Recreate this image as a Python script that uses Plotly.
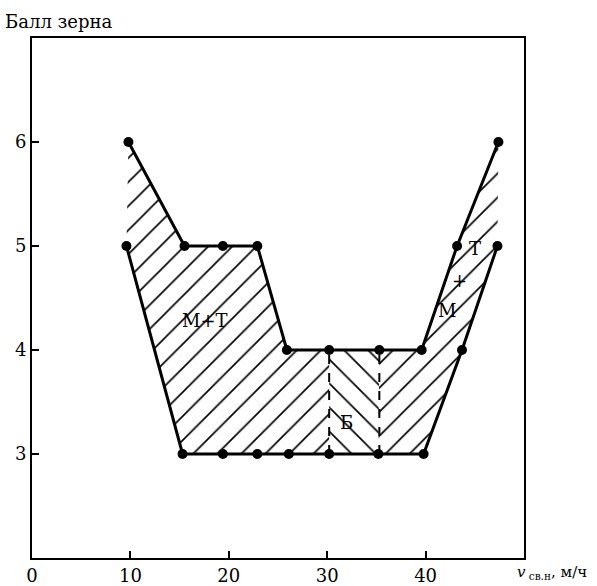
import plotly.graph_objects as go

# Upper boundary (points with markers)
upper_x = [9.8, 15.5, 19.4, 22.9, 25.9, 30.2, 35.3, 39.6, 43.2, 47.4]
upper_y = [6, 5, 5, 5, 4, 4, 4, 4, 5, 6]
# Lower boundary
lower_x = [9.6, 15.3, 19.4, 22.9, 26.1, 30.2, 35.2, 39.8, 43.7, 47.3]
lower_y = [5, 3, 3, 3, 3, 3, 3, 3, 4, 5]

# Region labels
label_text = ["М+Т", "Б", "Т", "+", "М"]
label_x = [17.6, 32.0, 45.0, 43.4, 42.2]
label_y = [4.28, 3.30, 4.98, 4.67, 4.38]

x_ticks = [0, 10, 20, 30, 40]
y_ticks = [3, 4, 5, 6]

FONT = "DejaVu Serif"

fig = go.Figure()

def region(i0, i1):
    xs = upper_x[i0:i1] + lower_x[i0:i1][::-1]
    ys = upper_y[i0:i1] + lower_y[i0:i1][::-1]
    return xs + [xs[0]], ys + [ys[0]]

# hatch regions: "/" left, "\" middle (Б), "/" right
for (i0, i1, shape) in [(0, 6, "/"), (5, 7, "\\"), (6, len(upper_x), "/")]:
    xs, ys = region(i0, i1)
    fig.add_trace(go.Scatter(
        x=xs, y=ys, mode="lines", fill="toself",
        line=dict(width=0, color="rgba(0,0,0,0)"),
        fillcolor="rgba(0,0,0,0)",
        fillpattern=dict(shape=shape, fgcolor="black", fgopacity=1,
                         bgcolor="rgba(0,0,0,0)",
                         size=17, solidity=0.1, fillmode="overlay"),
        hoverinfo="skip", showlegend=False))

# dashed vertical boundaries of region Б
for i in (5, 6):
    fig.add_trace(go.Scatter(
        x=[upper_x[i]] * 2, y=[lower_y[i], upper_y[i]],
        mode="lines", line=dict(color="black", width=2, dash="dash"),
        hoverinfo="skip", showlegend=False))

# boundaries
for xs, ys in [(upper_x, upper_y), (lower_x, lower_y)]:
    fig.add_trace(go.Scatter(
        x=xs, y=ys, mode="lines+markers",
        line=dict(color="black", width=3),
        marker=dict(color="black", size=10),
        showlegend=False))

for t, x, y in zip(label_text, label_x, label_y):
    fig.add_annotation(x=x, y=y, text=t, showarrow=False,
                       font=dict(family=FONT, size=18, color="black"),
                       bgcolor="rgba(0,0,0,0)")

fig.add_annotation(xref="paper", yref="paper", x=-0.058, y=1.008,
                   xanchor="left", yanchor="bottom", text="Балл зерна",
                   showarrow=False, font=dict(family=FONT, size=18, color="black"))
fig.add_annotation(xref="paper", yref="paper", x=0.982, y=-0.027,
                   xanchor="left", yanchor="middle",
                   text="<i>v</i><sub> св.н</sub>, м/ч",
                   showarrow=False, font=dict(family=FONT, size=15, color="black"))

axis_common = dict(showgrid=False, zeroline=False, showline=True, linecolor="black",
                   linewidth=2, mirror=True, ticks="inside", ticklen=7, tickwidth=1.5,
                   tickcolor="black", automargin=False,
                   tickfont=dict(family=FONT, size=18, color="black"))

fig.update_xaxes(range=[0, 50], tickvals=x_ticks, ticktext=[str(v) for v in x_ticks],
                 **axis_common)
fig.update_yaxes(range=[2, 7], tickvals=y_ticks, ticktext=[str(v) for v in y_ticks],
                 **axis_common)

fig.update_layout(width=597, height=586, margin=dict(l=32, r=73, t=38, b=28, autoexpand=False),
                  plot_bgcolor="white", paper_bgcolor="white",
                  font=dict(family=FONT, color="black"))

fig.write_html("out.html")
